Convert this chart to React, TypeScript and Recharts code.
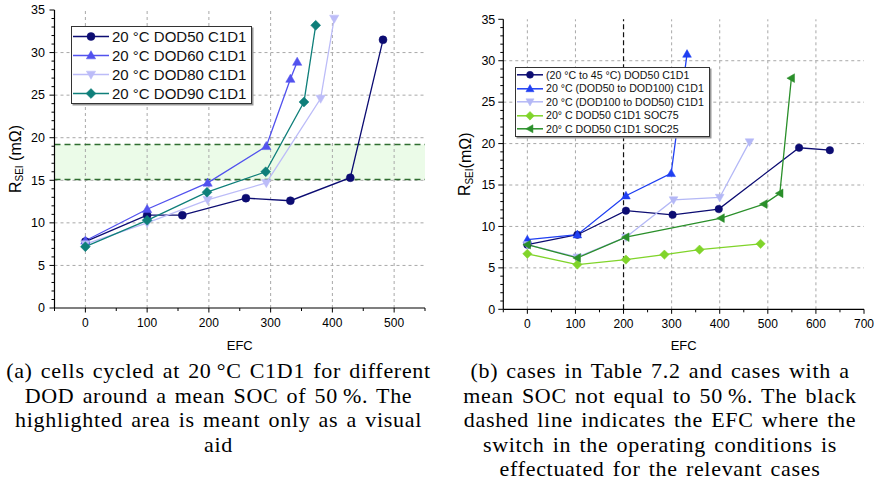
import React from 'react';
import { LineChart, Line, XAxis, YAxis, ReferenceLine, ReferenceArea, Legend } from 'recharts';

// ---------- Left chart (a) data ----------
const aDod50Efc = [0, 100, 157, 260, 332, 429, 482];
const aDod50R = [7.8, 10.9, 10.9, 12.9, 12.6, 15.3, 31.5];
const aDod60Efc = [0, 100, 198, 293, 332, 343];
const aDod60R = [7.9, 11.6, 14.7, 19.0, 26.9, 28.9];
const aDod80Efc = [0, 100, 198, 293, 381, 403];
const aDod80R = [7.5, 10.0, 12.7, 14.7, 24.6, 34.0];
const aDod90Efc = [0, 100, 197, 292, 354, 373];
const aDod90R = [7.2, 10.3, 13.6, 16.0, 24.2, 33.2];
const aBand = [15.1, 19.2];

// ---------- Right chart (b) data ----------
const bTempEfc = [0, 104, 205, 302, 398, 565, 629];
const bTempR = [7.8, 9.0, 11.9, 11.4, 12.1, 19.5, 19.2];
const bUpEfc = [0, 104, 205, 299, 332];
const bUpR = [8.4, 9.0, 13.7, 16.4, 30.8];
const bDownEfc = [0, 104, 205, 304, 400, 462];
const bDownR = [7.8, 6.3, 8.7, 13.2, 13.5, 20.2];
const bSoc75Efc = [0, 104, 205, 285, 358, 485];
const bSoc75R = [6.7, 5.4, 6.0, 6.6, 7.2, 7.9];
const bSoc25Efc = [0, 104, 205, 403, 492, 525, 549];
const bSoc25R = [7.8, 6.2, 8.7, 11.0, 12.7, 14.0, 27.9];
const bSwitchEfc = 200;

// ---------- ticks ----------
const aXTicks = [-50, 0, 50, 100, 150, 200, 250, 300, 350, 400, 450, 500, 550];
const aXMajor = [0, 100, 200, 300, 400, 500];
const bXTicks = [-50, 0, 50, 100, 150, 200, 250, 300, 350, 400, 450, 500, 550, 600, 650, 700];
const bXMajor = [0, 100, 200, 300, 400, 500, 600, 700];
const bXGrid = [0, 100, 300, 400, 500, 600];
const yTicks = [0, 1, 2, 3, 4, 5, 6, 7, 8, 9, 10, 11, 12, 13, 14, 15, 16, 17, 18, 19, 20, 21, 22, 23, 24, 25, 26, 27, 28, 29, 30, 31, 32, 33, 34, 35];
const yMajor = [0, 5, 10, 15, 20, 25, 30, 35];
const yGrid = [5, 10, 15, 20, 25, 30];

// ---------- captions ----------
const captionA = [
  '(a) cells cycled at 20\u2009°C C1D1 for different',
  'DOD around a mean SOC of 50\u2009%. The',
  'highlighted area is meant only as a visual',
  'aid',
];
const captionB = [
  '(b) cases in Table 7.2 and cases with a',
  'mean SOC not equal to 50\u2009%. The black',
  'dashed line indicates the EFC where the',
  'switch in the operating conditions is',
  'effectuated for the relevant cases',
];

const zip = (xs: number[], ys: number[]) => xs.map((x, i) => ({ x, r: ys[i] }));

type Shape = 'circle' | 'up' | 'down' | 'diamond' | 'left';
interface Series { name: string; color: string; shape: Shape; data: { x: number; r: number }[] }

const seriesA: Series[] = [
  { name: '20 °C DOD50 C1D1', color: '#0c0c72', shape: 'circle', data: zip(aDod50Efc, aDod50R) },
  { name: '20 °C DOD60 C1D1', color: '#5252ee', shape: 'up', data: zip(aDod60Efc, aDod60R) },
  { name: '20 °C DOD80 C1D1', color: '#bcbcf8', shape: 'down', data: zip(aDod80Efc, aDod80R) },
  { name: '20 °C DOD90 C1D1', color: '#0f7f7a', shape: 'diamond', data: zip(aDod90Efc, aDod90R) },
];

const seriesB: Series[] = [
  { name: '(20 °C to 45 °C) DOD50 C1D1', color: '#0c0c72', shape: 'circle', data: zip(bTempEfc, bTempR) },
  { name: '20 °C (DOD50 to DOD100) C1D1', color: '#1f3ff2', shape: 'up', data: zip(bUpEfc, bUpR) },
  { name: '20 °C (DOD100 to DOD50) C1D1', color: '#b4b8f6', shape: 'down', data: zip(bDownEfc, bDownR) },
  { name: '20° C DOD50 C1D1 SOC75', color: '#80d42a', shape: 'diamond', data: zip(bSoc75Efc, bSoc75R) },
  { name: '20° C DOD50 C1D1 SOC25', color: '#2a8f2a', shape: 'left', data: zip(bSoc25Efc, bSoc25R) },
];

const SANS = "'Liberation Sans', Arial, sans-serif";
const NARROW = "'Liberation Sans Narrow', 'Liberation Sans', Arial, sans-serif";

function Marker({ cx, cy, shape, color, size }: { cx: number; cy: number; shape: Shape; color: string; size: number }) {
  if (cx == null || cy == null || isNaN(cx) || isNaN(cy)) return null;
  const s = size;
  if (shape === 'circle') return <circle cx={cx} cy={cy} r={s / 2} fill={color} stroke={color} strokeWidth={0.5} />;
  let pts = '';
  if (shape === 'up') pts = `${cx},${cy - s * 0.6} ${cx - s * 0.58},${cy + s * 0.42} ${cx + s * 0.58},${cy + s * 0.42}`;
  if (shape === 'down') pts = `${cx},${cy + s * 0.6} ${cx - s * 0.58},${cy - s * 0.42} ${cx + s * 0.58},${cy - s * 0.42}`;
  if (shape === 'left') pts = `${cx - s * 0.6},${cy} ${cx + s * 0.42},${cy - s * 0.58} ${cx + s * 0.42},${cy + s * 0.58}`;
  if (shape === 'diamond') pts = `${cx},${cy - s * 0.62} ${cx + s * 0.62},${cy} ${cx},${cy + s * 0.62} ${cx - s * 0.62},${cy}`;
  return <polygon points={pts} fill={color} stroke={color} strokeWidth={0.5} />;
}

const dotRenderer = (shape: Shape, color: string, size: number) => (props: any) => {
  const { cx, cy, index } = props;
  return <Marker key={`d${index}`} cx={cx} cy={cy} shape={shape} color={color} size={size} />;
};

const makeXTick = (majors: number[]) => (props: any) => {
  const { x, y, payload } = props;
  const v = payload.value;
  const major = majors.includes(v);
  return (
    <g>
      <line x1={x} x2={x} y1={y} y2={y + (major ? 4.5 : 3)} stroke="#000" strokeWidth={1} />
      {major && (
        <text x={x} y={y + 19} textAnchor="middle" fontSize={12} fontFamily={NARROW} fill="#000">
          {v}
        </text>
      )}
    </g>
  );
};

const makeYTick = (gap: number) => (props: any) => {
  const { x, y, payload } = props;
  const v = payload.value;
  const major = yMajor.includes(v);
  return (
    <g>
      <line x1={x} x2={x - (major ? 5 : 3)} y1={y} y2={y} stroke="#000" strokeWidth={1} />
      {major && (
        <text x={x - gap} y={y + 4.3} textAnchor="end" fontSize={12.5} fontFamily={SANS} fill="#000">
          {v}
        </text>
      )}
    </g>
  );
};

const makeYLabel = (dx: number, space: boolean) => (props: any) => {
  const vb = props.viewBox || {};
  const cx = vb.x + dx;
  const cy = vb.y + vb.height / 2;
  return (
    <text
      x={cx}
      y={cy}
      transform={`rotate(-90 ${cx} ${cy})`}
      textAnchor="middle"
      dominantBaseline="central"
      fontSize={16}
      fontFamily={SANS}
      fill="#000"
    >
      R
      <tspan fontSize={10} dy={4}>SEI</tspan>
      <tspan dy={-4}>{space ? ' (mΩ)' : '(mΩ)'}</tspan>
    </text>
  );
};

function LegendBox({ items, fontSize, rowH, lineW, size }: { items: Series[]; fontSize: number; rowH: number; lineW: number; size: number }) {
  return (
    <div
      style={{
        background: '#fff',
        border: '1.3px solid #333',
        boxShadow: '1.5px 1.5px 0 #999',
        padding: '0px 5px 0px 1px',
        fontFamily: SANS,
        fontSize,
        color: '#111',
        lineHeight: 1,
      }}
    >
      {items.map((it) => (
        <div key={it.name} style={{ display: 'flex', alignItems: 'center', height: rowH }}>
          <svg width={lineW} height={rowH} style={{ display: 'block', flex: 'none' }}>
            <line x1={0} x2={lineW} y1={rowH / 2} y2={rowH / 2} stroke={it.color} strokeWidth={1.5} />
            <Marker cx={lineW / 2} cy={rowH / 2} shape={it.shape} color={it.color} size={size} />
          </svg>
          <span style={{ marginLeft: 3, whiteSpace: 'nowrap' }}>{it.name}</span>
        </div>
      ))}
    </div>
  );
}

const gridStroke = '#a8a8a8';

function ChartA() {
  return (
    <LineChart width={440} height={360} margin={{ top: 10, right: 15, bottom: 0, left: 0 }} style={{ fontFamily: SANS }}>
      <XAxis
        type="number"
        dataKey="x"
        domain={[-50, 550]}
        ticks={aXTicks}
        interval={0}
        allowDataOverflow
        height={52}
        tickSize={0}
        tickMargin={0}
        tickLine={false}
        tick={makeXTick(aXMajor)}
        axisLine={{ stroke: '#000', strokeWidth: 1.2 }}
        label={{ value: 'EFC', position: 'insideBottom', offset: 10, fontSize: 13, fill: '#000', fontFamily: SANS }}
      />
      <XAxis xAxisId="top" orientation="top" type="number" domain={[0, 1]} tick={false} tickLine={false} height={0} axisLine={{ stroke: '#000', strokeWidth: 1.2 }} />
      <YAxis
        type="number"
        domain={[0, 35]}
        ticks={yTicks}
        interval={0}
        allowDataOverflow
        width={54.5}
        tickSize={0}
        tickMargin={0}
        tickLine={false}
        tick={makeYTick(9.5)}
        axisLine={{ stroke: '#000', strokeWidth: 1.2 }}
        label={makeYLabel(15, true)}
      />
      <YAxis yAxisId="right" orientation="right" type="number" domain={[0, 1]} tick={false} tickLine={false} width={0} axisLine={{ stroke: '#000', strokeWidth: 1.2 }} />
      <ReferenceArea y1={aBand[0]} y2={aBand[1]} fill="#ebfbe8" fillOpacity={1} stroke="none" />
      {aXMajor.map((v) => (
        <ReferenceLine key={`gx${v}`} x={v} stroke={gridStroke} strokeDasharray="3 3" />
      ))}
      {yGrid.map((v) => (
        <ReferenceLine key={`gy${v}`} y={v} stroke={gridStroke} strokeDasharray="3 3" />
      ))}
      {aBand.map((v) => (
        <ReferenceLine key={`band${v}`} y={v} stroke="#2f6d2f" strokeWidth={1.5} strokeDasharray="6 4" />
      ))}
      {seriesA.map((s) => (
        <Line
          key={s.name}
          data={s.data}
          dataKey="r"
          name={s.name}
          type="linear"
          stroke={s.color}
          strokeWidth={1.3}
          dot={dotRenderer(s.shape, s.color, 8)}
          activeDot={false}
          isAnimationActive={false}
        />
      ))}
      <Legend
        layout="vertical"
        verticalAlign="middle"
        align="center"
        content={() => <LegendBox items={seriesA} fontSize={15} rowH={19} lineW={36} size={8} />}
        wrapperStyle={{ position: 'absolute', left: 71, top: 26, width: 'auto', height: 'auto' }}
      />
    </LineChart>
  );
}

function ChartB() {
  return (
    <LineChart width={437} height={360} margin={{ top: 19.3, right: 10, bottom: 0, left: 0 }} style={{ fontFamily: SANS }}>
      <XAxis
        type="number"
        dataKey="x"
        domain={[-50, 700]}
        ticks={bXTicks}
        interval={0}
        allowDataOverflow
        height={50.7}
        tickSize={0}
        tickMargin={0}
        tickLine={false}
        tick={makeXTick(bXMajor)}
        axisLine={{ stroke: '#000', strokeWidth: 1.2 }}
        label={{ value: 'EFC', position: 'insideBottom', offset: 10, fontSize: 13, fill: '#000', fontFamily: SANS }}
      />
      <XAxis xAxisId="top" orientation="top" type="number" domain={[0, 1]} tick={false} tickLine={false} height={0} axisLine={{ stroke: '#000', strokeWidth: 1.2 }} />
      <YAxis
        type="number"
        domain={[0, 35]}
        ticks={yTicks}
        interval={0}
        allowDataOverflow
        width={66.3}
        tickSize={0}
        tickMargin={0}
        tickLine={false}
        tick={makeYTick(8)}
        axisLine={{ stroke: '#000', strokeWidth: 1.2 }}
        label={makeYLabel(28, false)}
      />
      <YAxis yAxisId="right" orientation="right" type="number" domain={[0, 1]} tick={false} tickLine={false} width={0} axisLine={{ stroke: '#000', strokeWidth: 1.2 }} />
      {bXGrid.map((v) => (
        <ReferenceLine key={`gx${v}`} x={v} stroke={gridStroke} strokeDasharray="3 3" />
      ))}
      {yGrid.map((v) => (
        <ReferenceLine key={`gy${v}`} y={v} stroke={gridStroke} strokeDasharray="3 3" />
      ))}
      <ReferenceLine x={bSwitchEfc} stroke="#111" strokeWidth={1.2} strokeDasharray="5 3" />
      {seriesB.map((s) => (
        <Line
          key={s.name}
          data={s.data}
          dataKey="r"
          name={s.name}
          type="linear"
          stroke={s.color}
          strokeWidth={1.3}
          dot={dotRenderer(s.shape, s.color, 7.5)}
          activeDot={false}
          isAnimationActive={false}
        />
      ))}
      <Legend
        layout="vertical"
        verticalAlign="middle"
        align="center"
        content={() => <LegendBox items={seriesB} fontSize={10.6} rowH={13.6} lineW={26} size={7} />}
        wrapperStyle={{ position: 'absolute', left: 78, top: 67, width: 'auto', height: 'auto' }}
      />
    </LineChart>
  );
}

function Caption({ lines, left, width }: { lines: string[]; left: number; width: number }) {
  return (
    <div
      style={{
        position: 'absolute',
        left,
        top: 359,
        width,
        textAlign: 'center',
        fontFamily: "'Liberation Serif', 'Times New Roman', serif",
        fontSize: 22,
        letterSpacing: '0.7px',
        wordSpacing: '2px',
        lineHeight: '24.5px',
        color: '#000',
      }}
    >
      {lines.map((l) => (
        <div key={l} style={{ whiteSpace: 'nowrap' }}>{l}</div>
      ))}
    </div>
  );
}

export default function App() {
  return (
    <div style={{ position: 'absolute', left: 0, top: 0, width: 874, height: 491, background: '#fff', overflow: 'hidden' }}>
      <div style={{ position: 'absolute', left: 0, top: 0 }}>
        <ChartA />
      </div>
      <div style={{ position: 'absolute', left: 437, top: 0 }}>
        <ChartB />
      </div>
      <Caption lines={captionA} left={0} width={437} />
      <Caption lines={captionB} left={440} width={440} />
    </div>
  );
}
